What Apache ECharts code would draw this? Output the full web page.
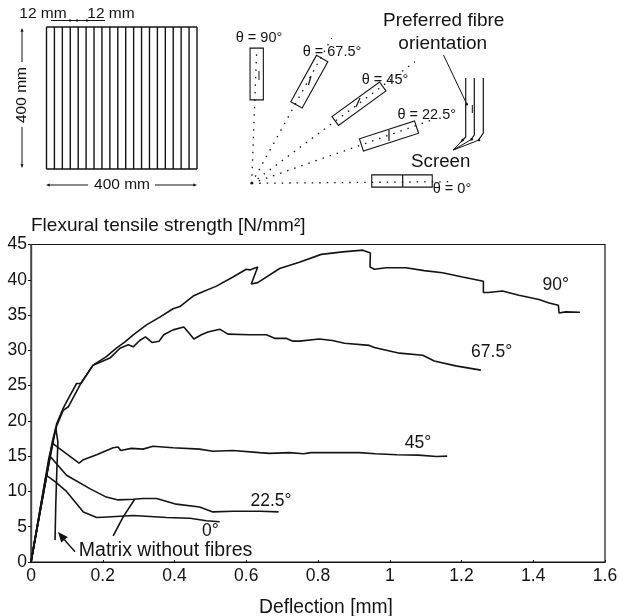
<!DOCTYPE html>
<html>
<head>
<meta charset="utf-8">
<title>Flexural tensile strength</title>
<script src="https://cdn.jsdelivr.net/npm/echarts@6/dist/echarts.min.js"></script>
<style>
  html, body { margin: 0; padding: 0; background: #fff; }
  #chart { width: 618px; height: 616px; }
</style>
</head>
<body>
<div id="chart"></div>
<script>
const INK = "#141414";
const FONT = '"Liberation Sans", Arial, sans-serif';

const xTicks = [0, 0.2, 0.4, 0.6, 0.8, 1, 1.2, 1.4, 1.6];
const yTicks = [0, 5, 10, 15, 20, 25, 30, 35, 40, 45];

// [deflection, strength]
const curve90 = [
  [0, 0], [0.05, 14], [0.0715, 19.6], [0.09, 21.8], [0.099, 22.7], [0.127, 25.3], [0.139, 25.3],
  [0.173, 27.9], [0.21, 29.1], [0.238, 30.3], [0.262, 31.2], [0.285, 32.2], [0.322, 33.6],
  [0.359, 34.7], [0.396, 35.9], [0.415, 36.2], [0.452, 37.7], [0.479, 38.3], [0.517, 39.1],
  [0.563, 40.4], [0.6, 41.5], [0.61, 41.4], [0.632, 41.8], [0.614, 39.4], [0.632, 39.6],
  [0.693, 41.6], [0.748, 42.5], [0.809, 43.6], [0.869, 43.96], [0.925, 44.2], [0.946, 43.8],
  [0.945, 41.8], [0.957, 41.5], [0.99, 41.7], [1.045, 41.7], [1.096, 41.3], [1.147, 41],
  [1.203, 40.4], [1.261, 39.8], [1.261, 38.2], [1.275, 38.2], [1.314, 38.4], [1.36, 37.8],
  [1.416, 37.2], [1.444, 36.7], [1.47, 36.4], [1.472, 35.3], [1.49, 35.45], [1.53, 35.4],
];
const curve675 = [
  [0, 0], [0.05, 14.8], [0.0715, 19.3], [0.09, 21.5], [0.104, 22], [0.139, 25.3], [0.173, 27.9],
  [0.22, 28.9], [0.248, 30.3], [0.271, 30.8], [0.285, 30.5], [0.303, 31.4], [0.319, 31.9],
  [0.338, 31.1], [0.357, 31.3], [0.37, 32.2], [0.396, 32.9], [0.426, 33.3], [0.438, 32.6],
  [0.454, 31.6], [0.475, 32.2], [0.493, 32.6], [0.526, 33], [0.549, 32.3], [0.609, 32.2],
  [0.656, 32.2], [0.679, 31.7], [0.711, 31.7], [0.73, 31.3], [0.748, 31.3], [0.804, 31.6],
  [0.84, 31.4], [0.874, 31], [0.943, 30.7], [0.957, 30.4], [1.027, 29.6], [1.092, 29.3],
  [1.124, 28.5], [1.184, 27.8], [1.254, 27.2],
];
const curve45 = [
  [0, 0], [0.06, 16.8], [0.134, 14], [0.146, 14.5], [0.183, 15.2], [0.229, 16.2], [0.243, 16.3],
  [0.25, 15.8], [0.28, 16.1], [0.312, 16], [0.34, 16.4], [0.396, 16.2], [0.47, 16], [0.507, 15.7],
  [0.563, 15.8], [0.637, 15.5], [0.665, 15.4], [0.72, 15.5], [0.76, 15.35], [0.78, 15.5], [0.82, 15.5],
  [0.915, 15.5], [0.96, 15.35], [1.02, 15.2], [1.08, 15.15], [1.13, 14.95], [1.16, 15],
];
const curve225 = [
  [0, 0], [0.053, 15], [0.099, 12.3], [0.164, 10.4], [0.21, 9.2], [0.243, 8.8], [0.285, 8.9],
  [0.312, 9], [0.35, 9], [0.405, 8.2], [0.47, 7.8], [0.507, 7.1], [0.563, 7.2], [0.64, 7.2], [0.69, 7.1],
];
const curve225Branch = [[0.229, 3.7], [0.257, 6.4], [0.289, 8.9]];
const curve0 = [
  [0, 0], [0.042, 12.3], [0.067, 11.4], [0.099, 10], [0.146, 7.1], [0.183, 6.3], [0.2, 6.35],
  [0.285, 6.6], [0.378, 6.3], [0.443, 6.2], [0.489, 5.85], [0.526, 5.7],
];
const curveMatrix = [
  [0, 0], [0.06, 17.2], [0.069, 19], [0.075, 17], [0.072, 13], [0.069, 8], [0.067, 3.1],
];
const curveLabels = [
  [1.463, 39.2, "90°"], [1.284, 29.8, "67.5°"], [1.079, 16.9, "45°"],
  [0.669, 8.64, "22.5°"], [0.5, 4.43, "0°"],
];
const matrixLabel = [[0.375, 1.6, "Matrix without fibres"]];
const allCurves = [curve90, curve675, curve45, curve225, curve225Branch, curve0, curveMatrix];

function line(x1, y1, x2, y2, width, dash) {
  return {
    type: "line",
    shape: { x1, y1, x2, y2 },
    style: { stroke: INK, lineWidth: width || 1, lineDash: dash || null },
    silent: true,
  };
}

function polyline(points, width) {
  return { type: "polyline", shape: { points }, style: { stroke: INK, fill: null, lineWidth: width || 1.2 }, silent: true };
}

function text(x, y, value, size, rotation) {
  return {
    type: "text",
    x,
    y,
    rotation: rotation || 0,
    style: { text: value, fill: INK, font: `${size}px ${FONT}`, align: "center", verticalAlign: "middle" },
    silent: true,
  };
}

function head(x, y, angle, size) {
  const a = (angle * Math.PI) / 180;
  const s = size || 5;
  const wing = (d) => [x - s * Math.cos(a + d), y - s * Math.sin(a + d)];
  return { type: "polygon", shape: { points: [[x, y], wing(0.4), wing(-0.4)] }, style: { fill: INK }, silent: true };
}

function dot(x, y) {
  return { type: "circle", shape: { cx: x, cy: y, r: 1.3 }, style: { fill: INK }, silent: true };
}

// small specimen box at an angle
function specimen(cx, cy, angle, length, width) {
  const a = (angle * Math.PI) / 180;
  const ux = Math.cos(a), uy = -Math.sin(a), vx = -uy, vy = ux;
  const corner = (p, q) => [cx + ux * p * length / 2 + vx * q * width / 2, cy + uy * p * length / 2 + vy * q * width / 2];
  return { type: "polygon", shape: { points: [corner(1, 1), corner(1, -1), corner(-1, -1), corner(-1, 1)] }, style: { stroke: INK, fill: null, lineWidth: 1.1 }, silent: true };
}

function buildGrid() {
  const items = [];
  const left = 46.5, right = 197, top = 27, bottom = 169, count = 19;
  items.push(line(left, top, right, top, 1.3));
  items.push(line(left, bottom, right, bottom, 1.3));
  for (let i = 0; i <= count; i += 1) {
    const x = left + ((right - left) * i) / count;
    items.push(line(x, top, x, bottom, 1.4));
  }
  items.push(text(43, 14, "12 mm", 15.5), text(111, 14, "12 mm", 15.5));
  items.push(line(51, 20.5, 105, 20.5, 1));
  [70, 77, 87].forEach((x) => items.push(line(x, 19, x, 22, 1)));
  items.push(text(22, 95, "400 mm", 15.5, Math.PI / 2));
  items.push(line(22, 30, 22, 62, 1), head(22, 28, -90, 4));
  items.push(line(22, 127, 22, 166, 1), head(22, 168, 90, 4));
  items.push(text(122, 185, "400 mm", 15.5));
  items.push(line(48, 185, 88, 185, 1), head(46, 185, 180, 4));
  items.push(line(155, 185, 195, 185, 1), head(197, 185, 0, 4));
  return items;
}

function buildFan() {
  const items = [];
  const ox = 251.7, oy = 183.3;
  const dash = [1.5, 6];
  items.push(line(ox, oy, 256.7, 50, 1.3, dash));
  items.push(line(ox, oy, 331.7, 38, 1.3, dash));
  items.push(line(ox, oy, 415, 61.7, 1.3, dash));
  items.push(line(ox, oy, 435, 119, 1.3, dash));
  items.push(line(ox, oy, 450, 181.7, 1.3, dash));
  items.push(dot(ox, oy));
  items.push(specimen(256.7, 74, 90, 51.7, 13.3));
  items.push(specimen(309.3, 81.7, 61, 53, 13));
  items.push(specimen(359, 103.7, 36, 58.7, 11));
  items.push(specimen(389, 136, 18, 58, 13));
  items.push(specimen(402, 181, 0, 60.5, 12.3));
  // cracks
  items.push(line(259, 71, 259, 80, 1), line(311, 76, 308.5, 85, 1.2), line(360, 98, 356, 107, 1.2), line(389, 130, 389, 141, 1.2), line(402.7, 175, 402.7, 187, 1.2));
  items.push(text(259, 37.7, "θ = 90°", 14.5), text(332, 51.7, "θ = 67.5°", 14.5));
  items.push(text(385, 80, "θ = 45°", 14.5), text(426.7, 115, "θ = 22.5°", 14.5), text(452, 189.3, "θ = 0°", 14.5));
  items.push(text(443.7, 20.7, "Preferred fibre", 19), text(442.7, 43.3, "orientation", 19), text(440.7, 161.7, "Screen", 18.7));
  // screens with pointers
  items.push(polyline([[465.7, 78], [465.7, 137], [461, 142]]));
  items.push(polyline([[474.3, 78], [474.3, 135], [470.5, 140]]));
  items.push(polyline([[483.3, 78], [483.3, 133], [478.5, 140]]));
  items.push(line(443.5, 55, 466.5, 103.5, 1), dot(466.7, 104.3), line(472.3, 105, 472.3, 113, 1));
  items.push(line(453.3, 150, 462.7, 140, 1), line(453.3, 150, 471.7, 139.3, 1), line(453.3, 150, 479, 140, 1));
  items.push(dot(462.7, 140), dot(471.7, 139.3), dot(479, 140));
  return items;
}

function buildArrow() {
  return [line(75, 551.7, 62, 537, 1.4), head(58, 532, -130, 11)];
}

function labelSeries(data, fontSize) {
  return {
    type: "scatter",
    data,
    symbolSize: 0,
    silent: true,
    itemStyle: { opacity: 1 },
    label: {
      show: true,
      position: "inside",
      formatter: (p) => p.value[2],
      color: INK,
      opacity: 1,
      fontFamily: FONT,
      fontSize,
    },
  };
}

const chart = echarts.init(document.getElementById("chart"), null, { renderer: "canvas" });
const axisText = { color: INK, fontFamily: FONT, fontSize: 17.5 };

chart.setOption({
  animation: false,
  backgroundColor: "#fff",
  grid: {
    left: 31,
    right: 13,
    top: 244.5,
    bottom: 54,
    outerBoundsMode: "none",
    show: true,
    borderColor: INK,
    borderWidth: 1.2,
    backgroundColor: "transparent",
  },
  xAxis: {
    type: "value",
    min: 0,
    max: 1.6,
    interval: 0.2,
    name: "Deflection [mm]",
    nameLocation: "middle",
    nameGap: 36,
    nameTextStyle: { color: INK, fontFamily: FONT, fontSize: 19.3, padding: [0, 0, 0, 16] },
    splitLine: { show: false },
    axisLine: { lineStyle: { color: INK, width: 1.2 } },
    axisTick: { inside: true, length: 2, lineStyle: { color: INK } },
    axisLabel: { ...axisText, margin: 5, hideOverlap: false, formatter: (v) => String(xTicks.find((t) => Math.abs(t - v) < 1e-6)) },
  },
  yAxis: {
    type: "value",
    min: 0,
    max: 45,
    interval: 5,
    name: "Flexural tensile strength [N/mm²]",
    nameLocation: "end",
    nameGap: 4,
    nameTextStyle: { color: INK, fontFamily: FONT, fontSize: 19, align: "left" },
    splitLine: { show: false },
    axisLine: { show: true, lineStyle: { color: "#444", width: 1.4 } },
    axisTick: { length: 3, lineStyle: { color: INK } },
    axisLabel: { ...axisText, margin: 4, formatter: (v) => String(yTicks.find((t) => t === v)) },
  },
  series: [
    ...allCurves.map((data) => ({
      type: "line",
      data,
      showSymbol: false,
      smooth: false,
      silent: true,
      lineStyle: { color: INK, width: 1.6 },
    })),
    labelSeries(curveLabels, 17.5),
    labelSeries(matrixLabel, 19.5),
  ],
  graphic: [...buildGrid(), ...buildFan(), ...buildArrow()],
});
</script>
</body>
</html>
